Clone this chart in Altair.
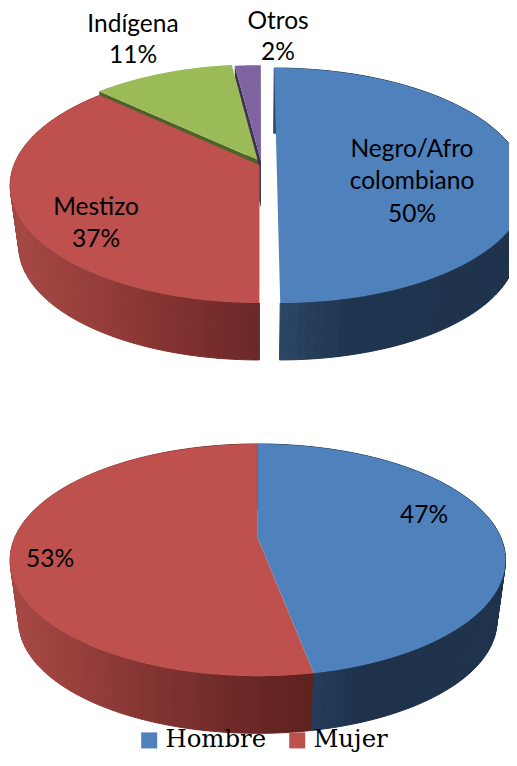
import numpy as np
import altair as alt

# ---- chart values ----
ethnic_categories = ["Negro/Afro colombiano", "Mestizo", "Indígena", "Otros"]
ethnic_values = [50, 37, 11, 2]
gender_categories = ["Hombre", "Mujer"]
gender_values = [47, 53]

# ---- styling ----
BLUE, RED, GREEN, PURPLE = "#4F81BD", "#BE504D", "#9BBB59", "#8064A2"
OLIVE, DARKPURPLE = "#4F6228", "#3F3151"
LABEL_FONT = "Lato"
LEGEND_FONT = "DejaVu Serif"

PIE1 = dict(cx=260.0, cy=165.0, a=245.5, b=113.9, k=0.1745, shift=61.8, s=0.965)
PIE2 = dict(cx=257.8, cy=538.0, a=243.2, b=111.9, k=0.19, shift=62.0, s=0.965)

RED_WALL1 = [(15, (165, 72, 68)), (130, (141, 56, 53)), (200, (122, 46, 45)), (260, (105, 40, 40))]
RED_WALL2 = [(15, (166, 72, 68)), (130, (136, 55, 52)), (230, (110, 42, 40)), (315, (93, 33, 30))]
BLUE_WALL1 = [(280, (44, 70, 102)), (350, (31, 52, 78)), (520, (31, 51, 77))]
BLUE_WALL2 = [(313, (37, 60, 90)), (360, (30, 50, 76)), (510, (31, 51, 77))]


def project(p, u, v, depth=0.0):
    d = 1 + p["k"] * v
    scale = 1 + (p["s"] - 1) * depth
    return [
        float(p["cx"] + scale * p["a"] * u / d),
        float(p["cy"] + depth * p["shift"] - scale * p["b"] * v / d),
    ]


def rim(p, t0, t1, eu=0.0, ev=0.0, depth=0.0, n=90):
    ts = np.radians(np.linspace(t0, t1, n))
    return [project(p, np.sin(t) + eu, np.cos(t) + ev, depth) for t in ts]


def feature(ring, color, serie=None):
    return {
        "type": "Feature",
        "geometry": {"type": "Polygon", "coordinates": [ring + [ring[0]]]},
        "properties": {"c": color, "serie": serie},
    }


def top_face(p, t0, t1, color, eu=0.0, ev=0.0, serie=None):
    return feature([project(p, eu, ev)] + rim(p, t0, t1, eu, ev), color, serie)


def wall_color(stops, x):
    xs = [s[0] for s in stops]
    rgb = [int(round(np.interp(x, xs, [s[1][i] for s in stops]))) for i in range(3)]
    return "#%02x%02x%02x" % tuple(rgb)


def wall(p, t0, t1, stops, eu=0.0, ev=0.0, n=110):
    top = rim(p, t0, t1, eu, ev, 0.0, n)
    bot = rim(p, t0, t1, eu, ev, 1.0, n)
    out = []
    for i in range(n - 1):
        x = (top[i][0] + top[i + 1][0]) / 2
        out.append(feature([top[i], top[i + 1], bot[i + 1], bot[i]], wall_color(stops, x)))
    return out


def cut_face(p, t, color, eu, ev, f=1.0):
    u, v = np.sin(np.radians(t)) + eu, np.cos(np.radians(t)) + ev
    return feature(
        [project(p, eu, ev), project(p, u, v), project(p, u, v, f), project(p, eu, ev, f)], color
    )


# cumulative angles, clockwise from twelve o'clock
c1 = np.cumsum([0] + ethnic_values) * 3.6
c2 = np.cumsum([0] + gender_values) * 3.6

EX = {"blue": (0.068, 0.0), "red": (-0.002, 0.0), "green": (-0.01, 0.045), "purple": (0.004, 0.035)}

strips = (
    wall(PIE1, c1[1], c1[2], RED_WALL1, *EX["red"])
    + wall(PIE1, c1[0], c1[1], BLUE_WALL1, *EX["blue"])
    + wall(PIE2, c2[1], c2[2], RED_WALL2)
    + wall(PIE2, c2[0], c2[1], BLUE_WALL2)
)

faces = [
    cut_face(PIE1, c1[4], DARKPURPLE, *EX["purple"], f=0.75),
    cut_face(PIE1, c1[3], DARKPURPLE, *EX["purple"], f=0.75),
    cut_face(PIE1, c1[2], OLIVE, *EX["green"], f=0.6),
    top_face(PIE1, c1[1], c1[2], RED, *EX["red"]),
    top_face(PIE1, c1[2], c1[3], GREEN, *EX["green"]),
    top_face(PIE1, c1[3], c1[4], PURPLE, *EX["purple"]),
    top_face(PIE1, c1[0], c1[1], BLUE, *EX["blue"]),
]

legend_faces = [
    top_face(PIE2, c2[1], c2[2], RED, serie=gender_categories[1]),
    top_face(PIE2, c2[0], c2[1], BLUE, serie=gender_categories[0]),
]

label_texts = [
    "Negro/Afro", "colombiano", f"{ethnic_values[0]}%",
    ethnic_categories[1], f"{ethnic_values[1]}%",
    ethnic_categories[2], f"{ethnic_values[2]}%",
    ethnic_categories[3], f"{ethnic_values[3]}%",
    f"{gender_values[0]}%", f"{gender_values[1]}%",
]
label_x = [412, 412, 412, 96, 96, 133, 133, 278, 278, 424, 50]
label_y = [157, 189, 222, 215, 247, 32, 63, 29, 60, 523, 567]
labels = [{"t": t, "x": x, "y": y} for t, x, y in zip(label_texts, label_x, label_y)]

proj = dict(type="identity", scale=1, translate=[-8, -8])

strip_layer = (
    alt.Chart(alt.Data(values=strips))
    .mark_geoshape(strokeWidth=1.0)
    .encode(
        fill=alt.Fill("properties.c:N", scale=None),
        stroke=alt.Stroke("properties.c:N", scale=None),
    )
    .project(**proj)
)

face_layer = (
    alt.Chart(alt.Data(values=faces))
    .mark_geoshape(strokeWidth=0)
    .encode(fill=alt.Fill("properties.c:N", scale=None))
    .project(**proj)
)

legend_layer = (
    alt.Chart(alt.Data(values=legend_faces))
    .mark_geoshape(strokeWidth=0)
    .encode(
        color=alt.Color(
            "properties.serie:N",
            scale=alt.Scale(domain=gender_categories, range=[BLUE, RED]),
            legend=alt.Legend(
                title=None,
                orient="none",
                legendX=129,
                legendY=720,
                direction="horizontal",
                symbolType="square",
                symbolSize=256,
                symbolStrokeWidth=0,
                symbolOpacity=1,
                labelFont=LEGEND_FONT,
                labelFontSize=24.4,
                labelColor="#000000",
                labelOffset=4,
                columnPadding=18,
                labelLimit=300,
            ),
        )
    )
    .project(**proj)
)

text_layer = (
    alt.Chart(alt.Data(values=labels))
    .mark_text(font=LABEL_FONT, fontSize=24.5, color="#000000", align="center", baseline="alphabetic")
    .encode(longitude="x:Q", latitude="y:Q", text="t:N")
    .project(**proj)
)

chart = (
    alt.layer(strip_layer, face_layer, legend_layer, text_layer)
    .properties(width=501, height=744, padding=0, autosize=alt.AutoSizeParams(type="none"))
    .configure_view(stroke=None)
)

chart.save("out.html", embed_options={"renderer": "svg", "actions": False})
